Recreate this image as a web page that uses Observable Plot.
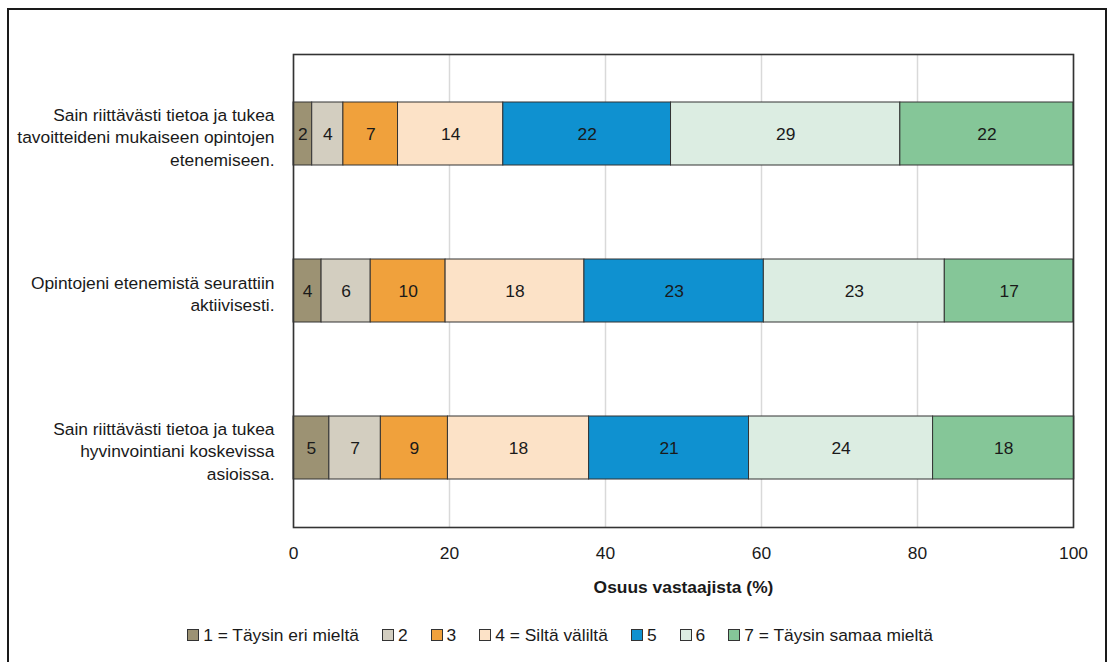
<!DOCTYPE html>
<html>
<head>
<meta charset="utf-8">
<script src="https://cdn.jsdelivr.net/npm/d3@7"></script>
<script src="https://cdn.jsdelivr.net/npm/@observablehq/plot@0.6"></script>
<style>
  html, body { margin: 0; padding: 0; background: #fff; }
  #box {
    position: absolute; left: 7px; top: 8px; width: 1100px; height: 680px;
    box-sizing: border-box; border: 2px solid #1a1a1a; background: #fff;
    font-family: "Liberation Sans", Arial, sans-serif; color: #1a1a1a;
  }
  #legend {
    display: flex; justify-content: center; align-items: center;
    margin-top: 15px; font-size: 17.4px; line-height: 20px; padding-left: 6px;
  }
  .item { display: flex; align-items: center; margin: 0 11.5px; }
  .sw { width: 10px; height: 10px; border: 1px solid #333; margin-right: 4px; }
</style>
</head>
<body>
<div id="box"><div id="chart"></div><div id="legend"></div></div>
<script>
// Questions (y categories)
const questions = [
  "Sain riittävästi tietoa ja tukea\ntavoitteideni mukaiseen opintojen\netenemiseen.",
  "Opintojeni etenemistä seurattiin\naktiivisesti.",
  "Sain riittävästi tietoa ja tukea\nhyvinvointiani koskevissa\nasioissa."
];
// Response categories (legend)
const categories = ["1 = Täysin eri mieltä", "2", "3", "4 = Siltä väliltä", "5", "6", "7 = Täysin samaa mieltä"];
const colors = ["#9c9273", "#d3cec0", "#f0a13c", "#fce2c7", "#0f91d0", "#dcede2", "#85c698"];
// Shares (%) per question, in category order
const q1Values = [2.4, 4.0, 7.0, 13.5, 21.5, 29.4, 22.2];
const q2Values = [3.6, 6.3, 9.6, 17.8, 23.0, 23.2, 16.5];
const q3Values = [4.6, 6.6, 8.6, 18.1, 20.5, 23.6, 18.1];
const xTicks = [0, 20, 40, 60, 80, 100];
const xTitle = "Osuus vastaajista (%)";

const seriesByQuestion = [q1Values, q2Values, q3Values];
const data = [];
questions.forEach((q, qi) => {
  categories.forEach((c, ci) => {
    data.push({q, cat: c, value: seriesByQuestion[qi][ci], label: String(Math.round(seriesByQuestion[qi][ci]))});
  });
});

const FS = 17.4;
const chart = Plot.plot({
  width: 1096,
  height: 600,
  marginLeft: 284,
  marginRight: 32,
  marginTop: 44,
  marginBottom: 83,
  style: {fontFamily: "'Liberation Sans', Arial, sans-serif", fontSize: FS + "px", color: "#1a1a1a", background: "#fff"},
  x: {domain: [0, 100], label: null},
  y: {domain: questions, paddingInner: 0.6, paddingOuter: 0.3, axis: null},
  color: {domain: categories, range: colors},
  marks: [
    Plot.gridX({ticks: xTicks, stroke: "#d9d9d9", strokeOpacity: 1, strokeWidth: 1.5}),
    Plot.barX(data, Plot.stackX({x: "value", y: "q", fill: "cat", order: null, stroke: "#333", strokeWidth: 1})),
    Plot.text(data, Plot.stackX({x: "value", y: "q", z: "cat", order: null, text: "label", fill: "#1a1a1a", fontSize: FS})),
    Plot.text(questions, {y: d => d, text: d => d, frameAnchor: "left", textAnchor: "end", dx: -19, dy: 2, lineHeight: 1.29, fontSize: FS, fill: "#1a1a1a"}),
    Plot.axisX({ticks: xTicks, tickSize: 0, tickPadding: 19, fontSize: FS, label: null, fill: "#1a1a1a"}),
    Plot.text([xTitle], {frameAnchor: "bottom", dy: 65, text: d => d, fontWeight: "bold", fontSize: FS, fill: "#1a1a1a"}),
    Plot.frame({stroke: "#333", strokeWidth: 1.6})
  ]
});
document.getElementById("chart").appendChild(chart);

const legend = document.getElementById("legend");
categories.forEach((c, i) => {
  const item = document.createElement("div");
  item.className = "item";
  const sw = document.createElement("div");
  sw.className = "sw";
  sw.style.background = colors[i];
  const t = document.createElement("span");
  t.textContent = c;
  item.appendChild(sw);
  item.appendChild(t);
  legend.appendChild(item);
});
</script>
</body>
</html>
